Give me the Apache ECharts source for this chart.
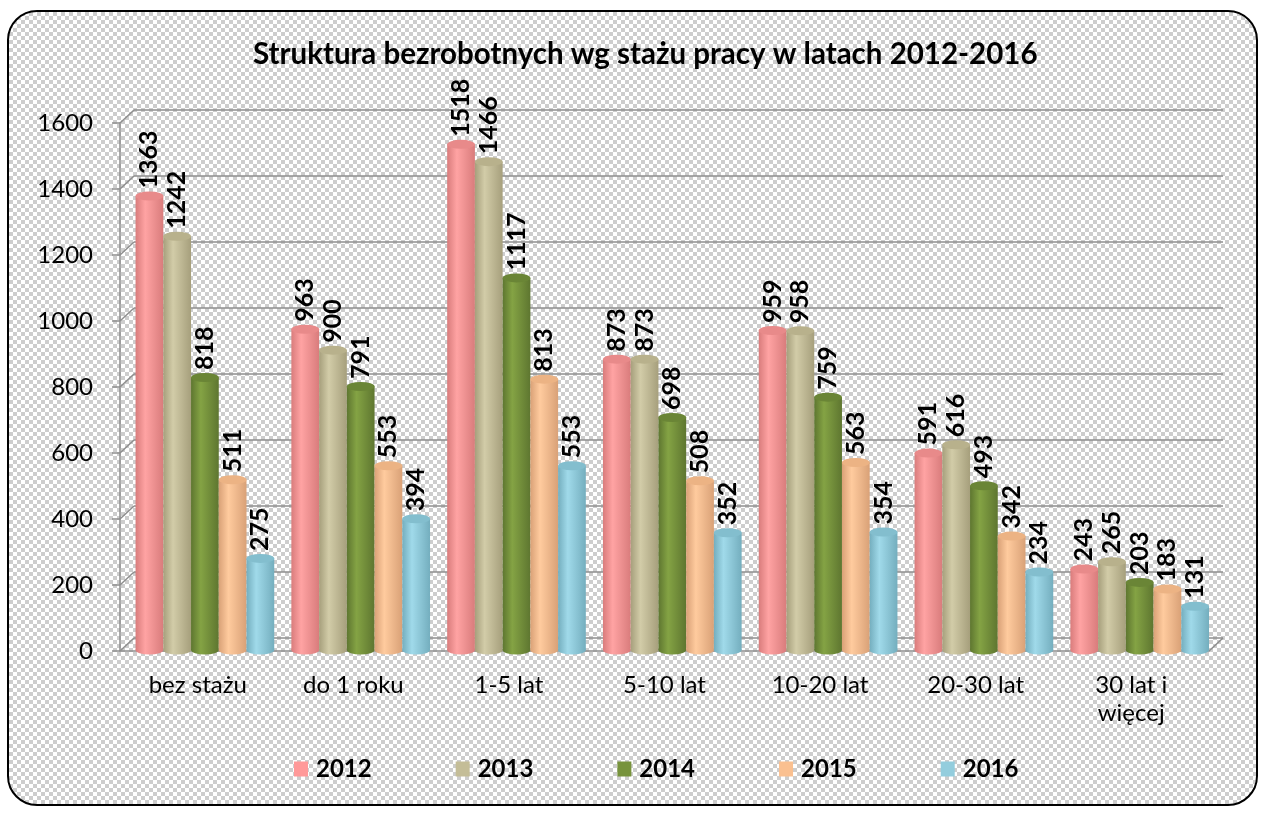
<!DOCTYPE html>
<html>
<head>
<meta charset="utf-8">
<script src="https://cdn.jsdelivr.net/npm/echarts@6/dist/echarts.min.js"></script>
<style>
html, body { margin: 0; padding: 0; background: #fff; }
#frame {
  position: absolute; left: 7px; top: 10px; width: 1247px; height: 792px;
  border: 2px solid #000; border-radius: 30px;
  background: repeating-conic-gradient(#cdcdcd 0 25%, #fff 0 50%) 0 0 / 8px 8px;
}
#chart { position: absolute; left: 0; top: 0; width: 1263px; height: 814px; }
</style>
</head>
<body>
<div id="frame"></div>
<div id="chart"></div>
<script>
// dane
var categories = ['bez stażu', 'do 1 roku', '1-5 lat', '5-10 lat', '10-20 lat', '20-30 lat', '30 lat i\nwięcej'];
var years = ['2012', '2013', '2014', '2015', '2016'];
var v2012 = [1363, 963, 1518, 873, 959, 591, 243];
var v2013 = [1242, 900, 1466, 873, 958, 616, 265];
var v2014 = [818, 791, 1117, 698, 759, 493, 203];
var v2015 = [511, 553, 813, 508, 563, 342, 183];
var v2016 = [275, 394, 553, 352, 354, 234, 131];
var yTicks = [0, 200, 400, 600, 800, 1000, 1200, 1400, 1600];

var values = [v2012, v2013, v2014, v2015, v2016];
var palette = [
  { base: '#FF9999', light: '#FFA3A3', dark: '#D97C7C', cap: '#E88A8A' },
  { base: '#C4BD97', light: '#D2CCA8', dark: '#A69F7C', cap: '#B8B18C' },
  { base: '#77933C', light: '#84A344', dark: '#5E7630', cap: '#6A8536' },
  { base: '#FAC090', light: '#FFCB9E', dark: '#D9A177', cap: '#ECB384' },
  { base: '#93CDDD', light: '#A0DAEA', dark: '#74AEBE', cap: '#83BECE' }
];
var gridColor = '#8e8e8e';
var depthX = 14, depthY = 13;

function cylinder(s) {
  return function (params, api) {
    var i = api.value(0), v = api.value(1);
    var top = api.coord([i, v]);
    var base = api.coord([i, 0]);
    var band = api.size([1, 0])[0];
    var w = band * 0.89 / 5;
    var x0 = top[0] - 2.5 * w + s * w;
    var cx = x0 + w / 2, ry = 4.5;
    var c = palette[s];
    var body = new echarts.graphic.LinearGradient(0, 0, 1, 0, [
      { offset: 0, color: c.dark }, { offset: 0.35, color: c.light }, { offset: 1, color: c.dark }
    ]);
    return {
      type: 'group',
      children: [
        { type: 'circle', x: cx, y: base[1], scaleY: ry / (w / 2), shape: { cx: 0, cy: 0, r: w / 2 }, style: { fill: body } },
        { type: 'rect', shape: { x: x0, y: top[1], width: w, height: base[1] - top[1] }, style: { fill: body } },
        { type: 'circle', x: cx, y: top[1], scaleY: ry / (w / 2), shape: { cx: 0, cy: 0, r: w / 2 }, style: { fill: c.cap } },
        { type: 'text', x: cx, y: top[1] - ry - 3, rotation: Math.PI / 2,
          style: { text: String(v), align: 'left', verticalAlign: 'middle', fontSize: 25, fontWeight: 'bold', fontFamily: 'Lato', fill: '#000' } }
      ]
    };
  };
}

var series = years.map(function (y, s) {
  return {
    name: y, type: 'custom', xAxisIndex: 2, yAxisIndex: 2,
    itemStyle: { color: palette[s].base },
    renderItem: cylinder(s),
    encode: { x: 0, y: 1 },
    data: values[s].map(function (v, i) { return [i, v]; })
  };
});

// ukośne linie ściany bocznej i podłogi
series.unshift({
  type: 'custom', xAxisIndex: 1, yAxisIndex: 1, silent: true,
  renderItem: function (params, api) {
    var cs = params.coordSys;
    var t = api.value(1);
    var y = api.coord([0, t])[1];
    var kids = [{ type: 'line', shape: { x1: cs.x, y1: y, x2: cs.x + depthX, y2: y - depthY }, style: { stroke: gridColor, lineWidth: 1.5 } }];
    if (t === 0) {
      kids.push({ type: 'line', shape: { x1: cs.x + cs.width, y1: y, x2: cs.x + cs.width + depthX, y2: y - depthY }, style: { stroke: gridColor, lineWidth: 1.5 } });
    }
    return { type: 'group', children: kids };
  },
  data: yTicks.map(function (t) { return [0, t]; })
});

var chart = echarts.init(document.getElementById('chart'));
chart.setOption({
  animation: false,
  backgroundColor: 'transparent',
  title: {
    text: 'Struktura bezrobotnych wg stażu pracy w latach 2012-2016',
    left: 248, top: 34,
    textStyle: { fontFamily: 'Lato', fontSize: 29.5, fontWeight: 'bold', color: '#000' }
  },
  legend: {
    data: years, left: 289, top: 752, icon: 'rect', itemWidth: 14, itemHeight: 15, itemGap: 84,
    textStyle: { fontFamily: 'Lato', fontSize: 24, fontWeight: 'bold', color: '#000', padding: [0, 0, 0, 3] }
  },
  grid: [
    { left: 134, top: 110, width: 1089, height: 528 },
    { left: 120, top: 123, width: 1089, height: 528 },
    { left: 127, top: 117, width: 1090.6, height: 533 }
  ],
  xAxis: [
    { gridIndex: 0, type: 'category', data: categories, show: false },
    { gridIndex: 1, type: 'category', data: categories,
      axisLine: { lineStyle: { color: gridColor, width: 1.5 } },
      axisTick: { length: 8, lineStyle: { color: gridColor, width: 1.5 } },
      axisLabel: { fontFamily: 'Lato', fontSize: 24, color: '#000', margin: 20, lineHeight: 28 } },
    { gridIndex: 2, type: 'category', data: categories, show: false }
  ],
  yAxis: [
    { gridIndex: 0, type: 'value', min: 0, max: 1600, interval: 200,
      axisLabel: { show: false }, axisLine: { show: false }, axisTick: { show: false },
      splitLine: { lineStyle: { color: gridColor, width: 1.5 } } },
    { gridIndex: 1, type: 'value', min: 0, max: 1600, interval: 200,
      axisLine: { show: true, lineStyle: { color: gridColor, width: 1.5 } },
      axisTick: { show: true, length: 8, lineStyle: { color: gridColor, width: 1.5 } },
      splitLine: { show: false },
      axisLabel: { fontFamily: 'Lato', fontSize: 24, color: '#000', margin: 27, formatter: function (v) { return String(v); } } },
    { gridIndex: 2, type: 'value', min: 0, max: 1600, show: false, splitLine: { show: false } }
  ],
  series: series
});
</script>
</body>
</html>
